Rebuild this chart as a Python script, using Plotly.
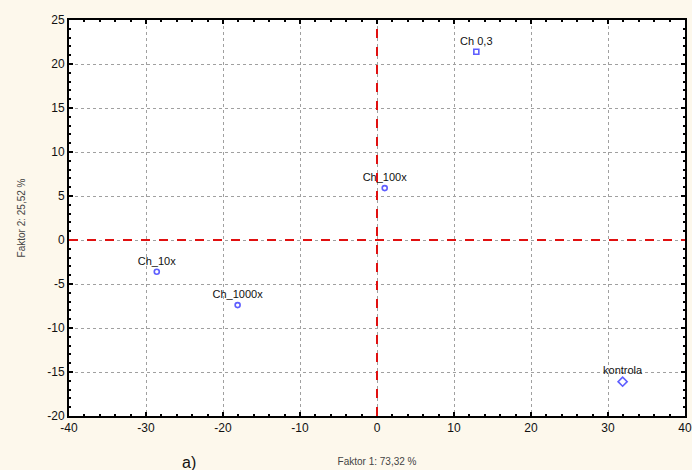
import plotly.graph_objects as go

names = ["Ch 0,3", "Ch_100x", "Ch_10x", "Ch_1000x", "kontrola"]
faktor1 = [12.9, 1.0, -28.6, -18.1, 31.9]
faktor2 = [21.4, 5.9, -3.6, -7.4, -16.1]
symbols = ["square-open", "circle-open", "circle-open", "circle-open", "diamond-open"]
sizes = [5, 5, 5, 5, 7]

x_ticks = [-40, -30, -20, -10, 0, 10, 20, 30, 40]
x_ticktext = ["-40", "-30", "-20", "-10", "0", "10", "20", "30", "40"]
y_ticks = [-20, -15, -10, -5, 0, 5, 10, 15, 20, 25]
y_ticktext = ["-20", "-15", "-10", "-5", "0", "5", "10", "15", "20", "25"]

x_title = "Faktor 1: 73,32 %"
y_title = "Faktor 2: 25,52 %"

fig = go.Figure()
fig.add_trace(go.Scatter(
    x=faktor1, y=faktor2, mode="markers+text", text=names,
    textposition="top center",
    textfont=dict(family="Liberation Sans, Arial", size=11, color="#111"),
    marker=dict(symbol=symbols, size=sizes, color="#1a1aff", line=dict(width=1.6, color="#1a1aff")),
    showlegend=False, cliponaxis=False,
))

fig.add_hline(y=0, line=dict(color="#e01010", width=2, dash="dash"))
fig.add_vline(x=0, line=dict(color="#e01010", width=2, dash="dash"))

axis_common = dict(
    showline=True, linecolor="black", linewidth=2, mirror="allticks",
    ticks="inside", ticklen=4, tickcolor="black", tickwidth=1.5,
    showgrid=True, gridcolor="#a0a0a0", griddash="dot", gridwidth=1,
    zeroline=False, ticklabeloverflow="allow",
    tickfont=dict(family="Liberation Sans, Arial", size=12, color="#111"),
)

fig.update_xaxes(range=[-40, 40], tickvals=x_ticks, ticktext=x_ticktext, **axis_common,
                 minor=dict(dtick=2, ticks="inside", ticklen=2, tickcolor="black", showgrid=False),
                 title=dict(text=x_title, font=dict(family="Liberation Sans, Arial", size=10, color="#444"), standoff=24))
fig.update_yaxes(range=[-20, 25], tickvals=y_ticks, ticktext=y_ticktext, **axis_common,
                 minor=dict(dtick=1, ticks="inside", ticklen=2, tickcolor="black", showgrid=False),
                 title=dict(text=y_title, font=dict(family="Liberation Sans, Arial", size=10, color="#444"), standoff=20))

fig.add_annotation(text="a)", xref="paper", yref="paper", x=0.195, y=-0.09,
                   xanchor="center", yanchor="top", showarrow=False,
                   font=dict(family="Liberation Sans, Arial", size=16, color="#111"))

fig.update_layout(
    width=692, height=470,
    margin=dict(l=69, r=7, t=20, b=54, autoexpand=False),
    paper_bgcolor="#fdf8ec", plot_bgcolor="white",
)

fig.write_html("out.html", config={"displayModeBar": False},
               post_script="document.body.style.margin='0';document.body.style.overflow='hidden';")
